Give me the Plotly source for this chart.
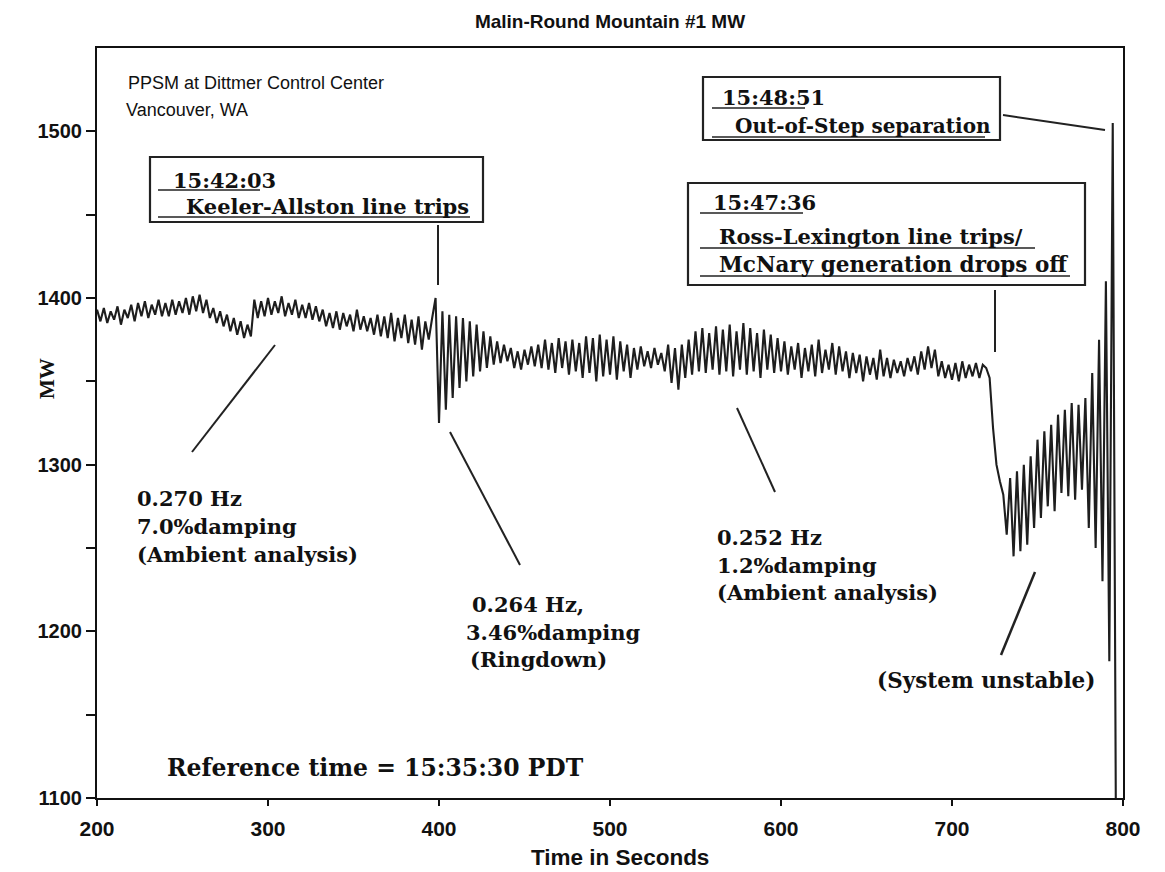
import plotly.graph_objects as go

# ---------------- data ----------------
time_start = 200      # s
time_step = 2         # s between samples (peak / trough alternation)

# 200 s .. 398 s : ambient, before Keeler-Allston trip
mw_pre_trip = [
    1393, 1386, 1394, 1385, 1392, 1387, 1395, 1384, 1393, 1388,
    1396, 1386, 1397, 1389, 1398, 1388, 1396, 1390, 1399, 1389,
    1397, 1389, 1399, 1390, 1398, 1391, 1400, 1390, 1401, 1392,
    1402, 1391, 1399, 1388, 1394, 1385, 1392, 1383, 1390, 1380,
    1388, 1378, 1386, 1376, 1384, 1377, 1399, 1388, 1398, 1389,
    1400, 1390, 1398, 1391, 1401, 1389, 1397, 1390, 1399, 1388,
    1396, 1388, 1397, 1387, 1395, 1386, 1393, 1383, 1391, 1382,
    1392, 1381, 1391, 1383, 1390, 1380, 1393, 1381, 1389, 1380,
    1388, 1378, 1390, 1377, 1389, 1376, 1391, 1374, 1388, 1376,
    1390, 1373, 1387, 1372, 1389, 1369, 1386, 1375, 1388, 1400,
]
# 400 s .. 458 s : ringdown after the trip
mw_ringdown = [
    1325, 1392, 1333, 1390, 1340, 1389, 1346, 1388, 1350, 1386,
    1353, 1384, 1356, 1380, 1358, 1377, 1360, 1374, 1361, 1372,
    1362, 1370, 1358, 1368, 1357, 1369, 1360, 1371, 1359, 1372,
]
# 460 s .. 718 s : ambient, lightly damped
mw_ambient = [
    1358, 1375, 1357, 1373, 1355, 1376, 1358, 1374, 1354, 1375,
    1356, 1373, 1352, 1377, 1355, 1376, 1350, 1378, 1353, 1375,
    1354, 1377, 1351, 1374, 1356, 1372, 1352, 1370, 1357, 1371,
    1359, 1368, 1358, 1370, 1360, 1367, 1356, 1372, 1349, 1370,
    1345, 1372, 1352, 1375, 1354, 1380, 1356, 1382, 1355, 1379,
    1357, 1383, 1354, 1381, 1356, 1384, 1353, 1380, 1357, 1385,
    1354, 1382, 1356, 1379, 1352, 1381, 1357, 1378, 1355, 1376,
    1356, 1374, 1354, 1371, 1357, 1373, 1352, 1370, 1356, 1372,
    1353, 1375, 1355, 1369, 1357, 1373, 1354, 1371, 1356, 1368,
    1352, 1367, 1355, 1366, 1350, 1365, 1354, 1364, 1351, 1369,
    1353, 1364, 1352, 1363, 1355, 1362, 1353, 1364, 1356, 1365,
    1354, 1368, 1357, 1371, 1358, 1369, 1353, 1362, 1352, 1360,
    1351, 1361, 1350, 1362, 1352, 1360, 1353, 1361, 1352, 1360,
]
# 720 s .. 796 s : drop, growing oscillation, separation
mw_unstable = [
    1358, 1352, 1322, 1300, 1290, 1282, 1258, 1292, 1245, 1296,
    1248, 1300, 1252, 1305, 1262, 1315, 1268, 1320, 1275, 1324,
    1272, 1330, 1283, 1333, 1281, 1337, 1279, 1336, 1285, 1340,
    1262, 1355, 1250, 1375, 1230, 1410, 1182, 1505, 1050,
]

mw_values = mw_pre_trip + mw_ringdown + mw_ambient + mw_unstable
time_values = [time_start + time_step * i for i in range(len(mw_values))]

x_tick_values = [200, 300, 400, 500, 600, 700, 800]
x_tick_labels = ["200", "300", "400", "500", "600", "700", "800"]
y_tick_values = [1100, 1150, 1200, 1250, 1300, 1350, 1400, 1450, 1500]
y_tick_labels = ["1100", "", "1200", "", "1300", "", "1400", "", "1500"]

# ---------------- layout helpers (pixel -> paper) ----------------
W, H = 1165, 872
L, R, T, B = 97, 1123, 48, 798


def fx(px):
    return (px - L) / (R - L)


def fy(py):
    return (B - py) / (B - T)


SANS = "Liberation Sans"
SERIF = "DejaVu Serif"


def ann(text, px, py, size, family=SERIF, weight="bold", anchor="left", angle=0):
    return dict(text=text, x=fx(px), y=fy(py), xref="paper", yref="paper",
                xanchor=anchor, yanchor="middle", showarrow=False,
                textangle=angle,
                font=dict(family=family, size=size, color="#111111", weight=weight))


def seg(px0, py0, px1, py1, width=2, color="#222222"):
    return dict(type="line", xref="paper", yref="paper",
                x0=fx(px0), y0=fy(py0), x1=fx(px1), y1=fy(py1),
                line=dict(color=color, width=width))


def box(px0, py0, px1, py1):
    return dict(type="rect", xref="paper", yref="paper",
                x0=fx(px0), y0=fy(py0), x1=fx(px1), y1=fy(py1),
                line=dict(color="#222222", width=2.2), fillcolor="rgba(0,0,0,0)")


fig = go.Figure()
fig.add_trace(go.Scatter(x=time_values, y=mw_values, mode="lines",
                         line=dict(color="#1e1e1e", width=2.1),
                         showlegend=False, hoverinfo="x+y"))

shapes = [
    # event boxes
    box(150, 157, 483, 222),
    box(703, 77, 1000, 140),
    box(688, 183, 1085, 285),
    # underlines
    seg(158, 190, 260, 190, 1.6), seg(158, 217, 470, 217, 1.6),
    seg(712, 108, 805, 108, 1.6), seg(712, 137, 985, 137, 1.6),
    seg(700, 213, 803, 213, 1.6), seg(700, 248, 1035, 248, 1.6),
    seg(700, 276, 1070, 276, 1.6),
    # leader lines
    seg(438, 225, 438, 285),
    seg(995, 290, 995, 352),
    seg(1003, 115, 1105, 130),
    seg(192, 452, 275, 345),
    seg(450, 432, 520, 565),
    seg(737, 408, 775, 492),
    seg(1035, 572, 1001, 655, 2.5),
]

annotations = [
    ann("PPSM at Dittmer Control Center", 126, 83, 18, SANS, "normal"),
    ann("Vancouver, WA", 124, 110, 18, SANS, "normal"),
    ann("15:42:03", 171, 180, 21),
    ann("Keeler-Allston line trips", 184, 206, 21),
    ann("15:48:51", 720, 97, 21),
    ann("Out-of-Step separation", 733, 126, 20),
    ann("15:47:36", 711, 202, 21),
    ann("Ross-Lexington line trips/", 717, 236, 21),
    ann("McNary generation drops off", 717, 264, 21.5),
    ann("0.270 Hz", 135, 498, 21),
    ann("7.0%damping", 135, 526, 21),
    ann("(Ambient analysis)", 135, 554, 21),
    ann("0.264 Hz,", 470, 605, 21),
    ann("3.46%damping", 464, 632, 21),
    ann("(Ringdown)", 468, 659, 21),
    ann("0.252 Hz", 715, 537, 21),
    ann("1.2%damping", 715, 565, 21),
    ann("(Ambient analysis)", 715, 592, 21),
    ann("(System unstable)", 875, 680, 21.5),
    ann("Reference time = 15:35:30 PDT", 165, 768, 23.5),
    ann("MW", 47, 379, 21, "Liberation Serif", "bold", "center", -90),
    ann("Time in Seconds", 620, 857, 22.5, SANS, "bold", "center"),
]

fig.update_layout(
    width=W, height=H, autosize=False,
    margin=dict(l=L, r=W - R, t=T, b=H - B, pad=0),
    paper_bgcolor="white", plot_bgcolor="white",
    title=dict(text="Malin-Round Mountain #1 MW", x=fx(610), xref="paper",
               xanchor="center", y=1 - 21 / H, yref="container", yanchor="middle",
               font=dict(family=SANS, size=19, color="#111111", weight="bold")),
    xaxis=dict(range=[200, 800], tickvals=x_tick_values, ticktext=x_tick_labels,
               showline=True, mirror=True, linecolor="#111111", linewidth=2.2,
               ticks="outside", ticklen=6, tickwidth=2, tickcolor="#111111",
               showgrid=False, zeroline=False, ticklabelstandoff=5,
               tickfont=dict(family=SANS, size=21, color="#111111", weight="bold")),
    yaxis=dict(range=[1100, 1550], tickvals=y_tick_values, ticktext=y_tick_labels,
               showline=True, mirror=True, linecolor="#111111", linewidth=2.2,
               ticks="outside", ticklen=9, tickwidth=2, tickcolor="#111111",
               showgrid=False, zeroline=False,
               tickfont=dict(family=SANS, size=20, color="#111111", weight="bold")),
    shapes=shapes,
    annotations=annotations,
)

fig.write_html(
    "out.html",
    config={"displayModeBar": False},
    post_script="document.body.style.margin='0';document.body.style.overflow='hidden';",
)
